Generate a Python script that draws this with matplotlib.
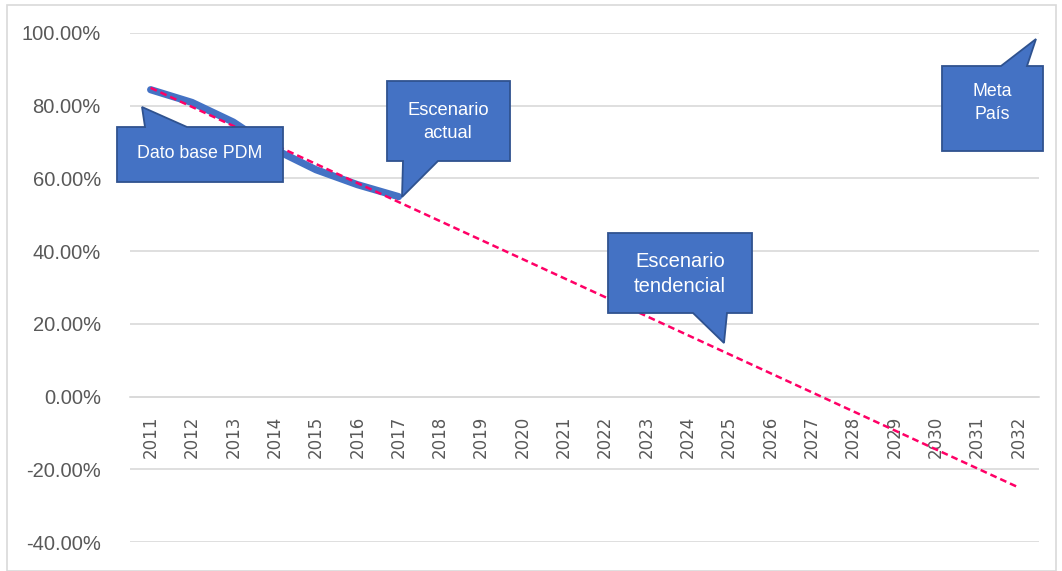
import matplotlib
matplotlib.use('Agg')
import matplotlib.pyplot as plt
import numpy as np
from matplotlib.patches import Polygon, Rectangle

# ---- data ----
years = list(range(2011, 2033))
actual_years = [2011, 2012, 2013, 2014, 2015, 2016, 2017]
actual_values = [84.4, 80.9, 75.5, 68.0, 62.4, 58.3, 55.0]
y_ticks = [-40, -20, 0, 20, 40, 60, 80, 100]
y_tick_labels = ['-40.00%', '-20.00%', '0.00%', '20.00%', '40.00%', '60.00%', '80.00%', '100.00%']

W, H = 1062, 571
fig = plt.figure(figsize=(W / 100, H / 100), dpi=100)
ax = fig.add_axes([130 / W, 1 - 542 / H, (1039 - 130) / W, (542 - 33) / H])

xpos = np.arange(len(years))
act_x = [years.index(y) for y in actual_years]

# spines first (set_position resets tick settings)
for s in ['top', 'right', 'left']:
    ax.spines[s].set_visible(False)
ax.spines['bottom'].set_position(('data', 0))
ax.spines['bottom'].set_color('#D9D9D9')
ax.spines['bottom'].set_linewidth(1.2)

# actual line
ax.plot(act_x, actual_values, color='#4472C4', lw=5.2, solid_capstyle='round',
        solid_joinstyle='round', zorder=3)

# linear trend (Excel-style trendline computed from actual data)
coef = np.polyfit(act_x, actual_values, 1)
trend = np.polyval(coef, xpos)
ax.plot(xpos, trend, color='#FF0066', lw=1.8, ls=(0, (2.7, 1.6)), zorder=4)

ax.set_xlim(-0.5, len(years) - 0.5)
ax.set_ylim(-40, 100)
ax.set_yticks(y_ticks)
ax.set_yticklabels(y_tick_labels, fontsize=14.5, color='#595959',
                   family=['Liberation Sans', 'DejaVu Sans'])
ax.set_xticks(xpos)
ax.set_xticklabels([str(y) for y in years], rotation=90, fontsize=12, color='#595959',
                   family=['DejaVu Sans'])
ax.tick_params(axis='y', length=0, pad=21)
ax.tick_params(axis='x', length=0, pad=14)
ax.grid(axis='y', color='#D9D9D9', lw=1.2, zorder=0)
ax.set_axisbelow(True)

# chart frame
fig.patches.append(Rectangle((7 / W, 0), (1056 - 7) / W, 1 - 5 / H,
                             transform=fig.transFigure, fill=False,
                             edgecolor='#D9D9D9', lw=1.2))

def px(points):
    return [(x / W, 1 - y / H) for x, y in points]

callouts = [
    ([(117, 127), (145, 127), (142, 107), (187, 127), (283, 127), (283, 182), (117, 182)],
     'Dato base PDM', (200, 154), 12.8),
    ([(387, 81), (510, 81), (510, 161), (438, 161), (402, 197), (403, 161), (387, 161)],
     'Escenario\nactual', (448, 122), 13.2),
    ([(608, 233), (752, 233), (752, 313), (727, 313), (724, 343), (693, 313), (608, 313)],
     'Escenario\ntendencial', (680, 274), 14.5),
    ([(942, 66), (1001, 66), (1036, 39), (1027, 66), (1043, 66), (1043, 151), (942, 151)],
     'Meta\nPaís', (992, 103), 12.8),
]
for pts, txt, (tx, ty), fs in callouts:
    poly = Polygon(px(pts), closed=True, transform=fig.transFigure,
                   facecolor='#4472C4', edgecolor='#2F528F', lw=1.3, zorder=10)
    fig.patches.append(poly)
    fig.text(tx / W, 1 - ty / H, txt, ha='center', va='center', color='white',
             fontsize=fs, family=['Liberation Sans', 'DejaVu Sans'],
             linespacing=1.45, zorder=11)

fig.savefig('out.png', dpi=100)
